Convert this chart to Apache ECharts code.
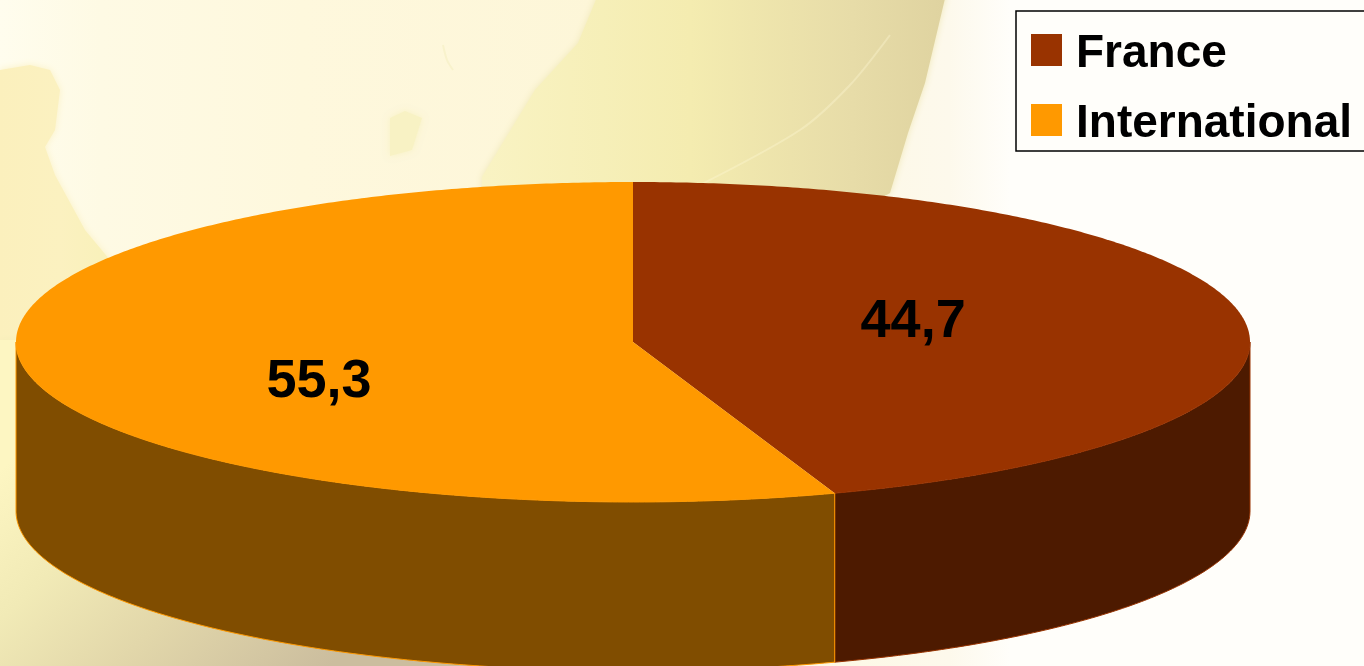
<!DOCTYPE html>
<html>
<head>
<meta charset="utf-8">
<style>html,body{margin:0;padding:0;background:#fffefa;overflow:hidden}#c{width:1364px;height:666px}</style>
<script src="https://cdn.jsdelivr.net/npm/echarts@6/dist/echarts.min.js"></script>
</head>
<body>
<div id="c"></div>
<script>
const categories = ['France', 'International'];
const values = [44.7, 55.3];
const valueLabels = ['44,7', '55,3'];
const topColors = ['#993300', '#FF9900'];
const wallColors = ['#4D1A00', '#804D00'];

const labelAnchor = [[0.454, 0.125], [-0.509, -0.25]];
const DEPTH = 1.056;
const total = values.reduce((a, b) => a + b, 0);

function lin(x, y, x2, y2, stops) {
  return { type: 'linear', x, y, x2, y2, global: true,
    colorStops: stops.map(s => ({ offset: s[0], color: s[1] })) };
}
function poly(points, fill, soft) {
  return { type: 'polygon', z: 1, silent: true, shape: { points },
    style: { fill, shadowBlur: 7, shadowColor: soft } };
}
function curve(points, stroke, lineWidth) {
  return { type: 'polyline', z: 1, silent: true, shape: { points, smooth: 0.3 }, style: { stroke, lineWidth, fill: 'none' } };
}
const backdrop = [
  { type: 'rect', silent: true, z: 0, shape: { x: 0, y: 0, width: 1364, height: 666 },
    style: { fill: lin(0, 0, 1010, 0, [[0, '#fffdee'], [0.1, '#fefae4'], [0.3, '#fef8dd'], [0.6, '#fdf6d8'], [0.94, '#fdf9ec'], [1, '#fffefa']]) } },
  poly([[0, 70], [30, 65], [50, 70], [60, 90], [55, 130], [45, 147], [55, 175], [85, 230], [110, 260], [110, 345], [0, 345]],
    lin(0, 0, 100, 0, [[0, '#fbf0bd'], [0.6, '#fbf1c0'], [1, '#f9f1bb']]), '#fbf1c4'),
  poly([[600, -10], [947, -10], [925, 83], [908, 133], [890, 193], [700, 300], [480, 300], [482, 177], [535, 90], [578, 43]],
    lin(482, 0, 945, 0, [[0, '#f9f3c3'], [0.45, '#f4ecb0'], [0.8, '#e7dca8'], [1, '#dfd3a0']]), '#f0e8b8'),
  curve([[690, 190], [800, 130], [850, 85], [890, 35]], 'rgba(255,250,215,0.35)', 2),
  poly([[390, 118], [405, 111], [422, 118], [412, 150], [390, 156]], '#f8f2c4', '#f8f2c4'),
  curve([[443, 45], [447, 60], [453, 70]], '#f8f2cc', 2),
  poly([[0, 340], [110, 340], [560, 640], [560, 670], [0, 670]],
    lin(0, 470, 250, 740, [[0, '#fdf6c2'], [0.3, '#f1eab6'], [0.6, '#e2d7aa'], [1, '#cbbd9e']]), '#f4edb9')
];

function renderPie(index) {
  return function (params, api) {
    const value = api.value(0);
    const before = values.slice(0, index).reduce((a, b) => a + b, 0);
    const a0 = before / total * 360;
    const a1 = (before + value) / total * 360;
    const pt = (deg, drop) => {
      const r = deg * Math.PI / 180;
      return api.coord([Math.sin(r), Math.cos(r) - (drop || 0)]);
    };
    const topPts = [api.coord([0, 0])];
    for (let d = a0; d < a1; d += 0.5) topPts.push(pt(d));
    topPts.push(pt(a1));

    const w0 = Math.max(a0, 90), w1 = Math.min(a1, 270);
    const upper = [], lower = [];
    for (let d = w0; d < w1; d += 0.5) { upper.push(pt(d)); lower.unshift(pt(d, DEPTH)); }
    upper.push(pt(w1)); lower.unshift(pt(w1, DEPTH));

    const anchor = api.coord(labelAnchor[index]);
    return {
      type: 'group',
      children: [
        { type: 'polygon', shape: { points: upper.concat(lower) },
          style: { fill: wallColors[index], stroke: topColors[index], lineWidth: 1 } },
        { type: 'polygon', shape: { points: topPts }, style: { fill: topColors[index] } },
        { type: 'text', x: anchor[0], y: anchor[1],
          style: { text: valueLabels[index], align: 'center', verticalAlign: 'middle',
            font: 'bold 54px "Liberation Sans", Arial, sans-serif', fill: '#000' } }
      ]
    };
  };
}

const chart = echarts.init(document.getElementById('c'), null, { renderer: 'canvas' });
chart.setOption({
  animation: false,
  graphic: { elements: backdrop },
  grid: { left: 16, top: 182, width: 1234, height: 320, containLabel: false },
  xAxis: { type: 'value', min: -1, max: 1, show: false },
  yAxis: { type: 'value', min: -1, max: 1, show: false },
  legend: {
    orient: 'vertical', left: 1016, top: 11, data: categories,
    padding: [20, 30, 4, 15], itemGap: 24, itemWidth: 31, itemHeight: 32,
    borderColor: '#000', borderWidth: 1.5, backgroundColor: 'rgba(255,255,255,0)',
    icon: 'rect', selectedMode: false,
    formatter: name => `{a|${name}}`,
    textStyle: { fontFamily: '"Liberation Sans", Arial, sans-serif', fontWeight: 'bold', fontSize: 46, color: '#000',
      rich: { a: { fontFamily: '"Liberation Sans", Arial, sans-serif', fontWeight: 'bold', fontSize: 46, color: '#000', padding: [8, 0, 0, 9] } } }
  },
  series: categories.map((name, i) => ({
    type: 'custom', name, coordinateSystem: 'cartesian2d', z: 2, silent: true,
    itemStyle: { color: topColors[i] },
    renderItem: renderPie(i),
    data: [[values[i]]],
    encode: { x: 0 }
  }))
});
</script>
</body>
</html>
